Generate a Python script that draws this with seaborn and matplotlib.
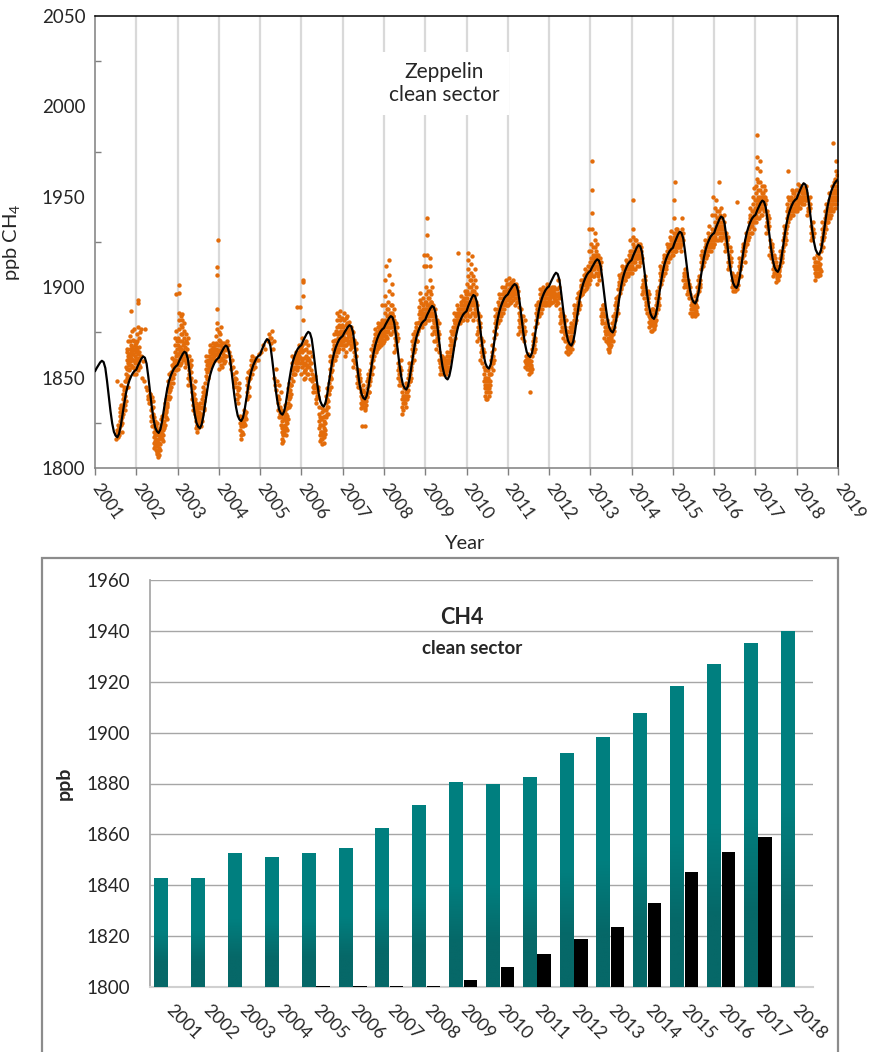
import numpy as np
import pandas as pd
import matplotlib
matplotlib.use("Agg")
import matplotlib.pyplot as plt
import seaborn as sns
from matplotlib.patches import Rectangle
from matplotlib.colors import LinearSegmentedColormap

sns.set_theme(style="white")
plt.rcParams["font.family"] = ["Lato", "DejaVu Sans"]
plt.rcParams["mathtext.default"] = "regular"

# ---------------- top panel data ----------------
# fitted curve, values on the 1st and 15th of each month (Jan..Dec)
fit_2001 = [1853.5, 1855.3, 1856.9, 1858.4, 1859.3, 1858.6, 1855.3, 1848.1, 1839.6, 1831.5, 1824.7, 1820.0,
            1817.9, 1817.0, 1818.9, 1823.4, 1829.7, 1835.7, 1841.3, 1845.4, 1848.4, 1850.7, 1852.5, 1853.7]
fit_2002 = [1854.4, 1856.7, 1858.6, 1860.5, 1861.7, 1861.0, 1857.7, 1850.5, 1842.0, 1833.9, 1827.1, 1822.4,
            1820.3, 1819.4, 1821.3, 1825.8, 1832.2, 1838.2, 1843.8, 1848.0, 1851.0, 1853.2, 1855.1, 1856.2]
fit_2003 = [1857.0, 1859.3, 1861.2, 1863.1, 1864.3, 1863.6, 1860.3, 1853.1, 1844.6, 1836.5, 1829.7, 1825.0,
            1822.9, 1822.0, 1824.0, 1828.6, 1835.3, 1841.5, 1847.4, 1851.6, 1854.8, 1857.1, 1859.1, 1860.2]
fit_2004 = [1861.0, 1863.1, 1864.9, 1866.6, 1867.7, 1867.0, 1863.8, 1856.7, 1848.3, 1840.3, 1833.6, 1828.9,
            1826.8, 1826.0, 1827.8, 1832.2, 1838.5, 1844.4, 1849.9, 1853.9, 1856.8, 1859.0, 1860.9, 1862.0]
fit_2005 = [1862.7, 1865.4, 1867.6, 1869.8, 1871.3, 1870.6, 1867.4, 1860.2, 1851.8, 1843.8, 1837.1, 1832.4,
            1830.3, 1829.5, 1831.4, 1836.0, 1842.6, 1848.8, 1854.5, 1858.8, 1861.8, 1864.2, 1866.1, 1867.2]
fit_2006 = [1868.0, 1870.3, 1872.2, 1874.1, 1875.3, 1874.6, 1871.4, 1864.4, 1856.0, 1848.1, 1841.5, 1836.9,
            1834.8, 1834.0, 1836.0, 1840.6, 1847.3, 1853.5, 1859.4, 1863.6, 1866.8, 1869.1, 1871.1, 1872.2]
fit_2007 = [1873.0, 1874.9, 1876.5, 1878.0, 1879.0, 1878.3, 1875.2, 1868.1, 1859.9, 1852.0, 1845.4, 1840.9,
            1838.8, 1838.0, 1840.0, 1844.7, 1851.4, 1857.8, 1863.7, 1868.0, 1871.2, 1873.6, 1875.5, 1876.7]
fit_2008 = [1877.5, 1879.5, 1881.2, 1882.9, 1884.0, 1883.3, 1880.2, 1873.3, 1865.1, 1857.3, 1850.8, 1846.3,
            1844.2, 1843.4, 1845.3, 1850.0, 1856.5, 1862.7, 1868.5, 1872.7, 1875.8, 1878.1, 1880.1, 1881.2]
fit_2009 = [1882.0, 1884.4, 1886.3, 1888.3, 1889.6, 1888.9, 1885.8, 1878.9, 1870.7, 1862.9, 1856.4, 1851.9,
            1849.8, 1849.0, 1850.9, 1855.4, 1861.8, 1867.9, 1873.5, 1877.7, 1880.7, 1882.9, 1884.8, 1885.9]
fit_2010 = [1886.7, 1889.5, 1891.8, 1894.1, 1895.7, 1895.0, 1891.9, 1884.9, 1876.7, 1868.9, 1862.4, 1857.9,
            1855.8, 1855.0, 1857.1, 1862.0, 1868.9, 1875.5, 1881.7, 1886.2, 1889.4, 1891.9, 1894.0, 1895.2]
fit_2011 = [1896.0, 1897.8, 1899.3, 1900.8, 1901.7, 1901.0, 1897.9, 1891.0, 1882.9, 1875.2, 1868.7, 1864.2,
            1862.2, 1861.4, 1863.4, 1868.0, 1874.7, 1881.0, 1886.8, 1891.1, 1894.2, 1896.6, 1898.5, 1899.7]
fit_2012 = [1900.5, 1902.8, 1904.8, 1906.7, 1908.0, 1907.3, 1904.2, 1897.3, 1889.2, 1881.5, 1875.0, 1870.5,
            1868.5, 1867.7, 1869.8, 1874.7, 1881.7, 1888.4, 1894.5, 1899.1, 1902.4, 1904.9, 1906.9, 1908.2]
fit_2013 = [1909.0, 1911.0, 1912.7, 1914.4, 1915.4, 1914.7, 1911.6, 1904.7, 1896.6, 1888.8, 1882.3, 1877.8,
            1875.8, 1875.0, 1877.0, 1881.8, 1888.6, 1895.0, 1901.0, 1905.4, 1908.6, 1911.0, 1913.0, 1914.2]
fit_2014 = [1915.0, 1917.6, 1919.7, 1921.9, 1923.3, 1922.6, 1919.5, 1912.5, 1904.3, 1896.5, 1889.9, 1885.3,
            1883.3, 1882.5, 1884.5, 1889.2, 1895.9, 1902.2, 1908.0, 1912.4, 1915.5, 1917.9, 1919.8, 1921.0]
fit_2015 = [1921.8, 1924.6, 1926.9, 1929.2, 1930.7, 1930.0, 1927.0, 1920.2, 1912.2, 1904.6, 1898.2, 1893.8,
            1891.8, 1891.0, 1893.0, 1897.6, 1904.3, 1910.5, 1916.4, 1920.6, 1923.8, 1926.1, 1928.1, 1929.2]
fit_2016 = [1930.0, 1932.8, 1935.2, 1937.5, 1939.1, 1938.4, 1935.4, 1928.7, 1920.7, 1913.1, 1906.8, 1902.4,
            1900.4, 1899.6, 1901.6, 1906.5, 1913.3, 1919.8, 1925.9, 1930.3, 1933.5, 1936.0, 1938.0, 1939.2]
fit_2017 = [1940.0, 1942.5, 1944.5, 1946.6, 1947.9, 1947.2, 1944.2, 1937.5, 1929.5, 1922.0, 1915.6, 1911.3,
            1909.3, 1908.5, 1910.5, 1915.4, 1922.3, 1928.8, 1934.8, 1939.3, 1942.5, 1945.0, 1947.0, 1948.2]
fit_2018 = [1949.0, 1951.6, 1953.8, 1956.0, 1957.5, 1956.8, 1953.8, 1947.1, 1939.1, 1931.5, 1925.2, 1920.8,
            1918.8, 1918.0, 1920.1, 1925.1, 1932.1, 1938.8, 1945.0, 1949.5, 1952.9, 1955.4, 1957.4, 1958.7]
fit_end_2019 = 1959.5

# observations, per month (Jan..Dec), values in ppb -- first reading pass
obs_2001 = ["", "", "", "", "", "",
            "1819 1816 1821 1848 1824",
            "1818 1822 1826 1829 1831 1833 1827 1835 1846 1824",
            "1830 1834 1838 1841 1836 1843 1845 1839 1832 1848",
            "1848 1852 1856 1860 1864 1855 1850 1866 1858 1862 1870 1845",
            "1855 1859 1862 1866 1870 1873 1861 1857 1864 1868 1887 1876",
            "1856 1860 1863 1866 1852 1870 1877 1865 1862 1858 1868"]
obs_2002 = ["1852 1856 1860 1865 1870 1874 1878 1893 1891 1863 1858",
            "1856 1862 1877 1850", "1848 1877 1845", "1843 1840 1838 1836",
            "1841 1836 1832 1829 1826 1833 1823 1839",
            "1828 1824 1820 1817 1814 1811 1822 1818 1815 1826 1812",
            "1815 1812 1809 1806 1808 1818 1821 1813 1810 1816 1819",
            "1813 1817 1820 1824 1827 1816 1822 1829 1819",
            "1822 1826 1829 1833 1836 1830 1824 1838 1832",
            "1836 1840 1844 1848 1852 1842 1838 1846",
            "1845 1849 1853 1857 1861 1851 1856 1847",
            "1852 1856 1860 1864 1868 1872 1876 1896 1862 1858"]
obs_2003 = ["1855 1859 1863 1868 1872 1877 1882 1886 1901 1897 1866 1861",
            "1858 1862 1866 1870 1874 1878 1882 1885 1864 1860 1868",
            "1856 1860 1864 1867 1870 1874 1862 1858",
            "1846 1850 1854 1858 1862 1852 1848 1856",
            "1850 1846 1842 1838 1835 1832 1844 1840",
            "1838 1834 1830 1826 1822 1828 1832 1836 1824 1820",
            "1822 1825 1828 1831 1834 1836 1826 1830 1824",
            "1830 1834 1838 1842 1845 1836 1840 1832",
            "1847 1851 1855 1859 1862 1853 1849 1857",
            "1856 1859 1862 1865 1868 1860 1864 1858",
            "1858 1861 1864 1867 1869 1862 1866",
            "1860 1863 1866 1869 1873 1877 1880 1888 1907 1911 1926 1864"]
obs_2004 = ["1855 1859 1862 1865 1868 1870 1874 1878 1860",
            "1856 1860 1863 1866 1869 1862 1858",
            "1862 1866 1870 1868", "1858 1862 1855",
            "1856 1852 1848 1845 1850",
            "1849 1845 1841 1838 1843 1836",
            "1829 1825 1821 1818 1816 1823 1827",
            "1823 1826 1829 1832 1825 1830",
            "1838 1842 1846 1850 1853 1844 1848",
            "1850 1854 1857 1860 1862 1856",
            "1858 1861 1856", "1860 1863"]
obs_2005 = ["1864 1868", "1866", "1870 1874", "1869 1872 1876 1866",
            "1850 1846 1855 1843",
            "1840 1836 1832 1828 1846 1838",
            "1832 1828 1824 1820 1816 1814 1826 1822 1818 1830",
            "1820 1824 1828 1832 1835 1826 1830 1818 1822",
            "1836 1840 1844 1847 1842 1838 1834",
            "1846 1850 1854 1858 1862 1852 1856",
            "1852 1856 1860 1864 1858 1862 1889",
            "1856 1860 1864 1868 1862 1889 1866"]
obs_2006 = ["1852 1856 1860 1864 1868 1872 1882 1895 1904 1903 1858 1849",
            "1850 1854 1858 1862 1866 1870 1856 1860",
            "1852 1856 1860 1864 1858 1849",
            "1852 1848 1845 1842 1850 1846",
            "1846 1842 1838 1836 1840 1844",
            "1834 1830 1826 1822 1818 1815 1828 1824 1820",
            "1816 1813 1820 1824 1828 1818 1822 1826 1832",
            "1828 1832 1836 1840 1844 1834 1838 1830",
            "1843 1847 1851 1855 1859 1862 1849 1853",
            "1858 1862 1866 1870 1874 1864 1868 1860",
            "1862 1866 1870 1874 1878 1882 1886 1868 1872",
            "1866 1870 1874 1878 1882 1887 1872 1876 1869"]
obs_2007 = ["1866 1870 1874 1878 1882 1886 1868 1872 1876 1862",
            "1868 1872 1876 1880 1884 1870 1874 1878",
            "1866 1870 1874 1878 1872 1868 1876",
            "1856 1860 1864 1868 1871 1862 1858",
            "1855 1851 1847 1845 1853 1849",
            "1848 1844 1840 1836 1833 1842 1838 1823",
            "1834 1838 1842 1836 1840 1823 1832",
            "1840 1844 1848 1852 1846 1850 1842",
            "1850 1854 1858 1862 1866 1856 1860",
            "1862 1866 1870 1874 1877 1868 1872",
            "1866 1870 1874 1878 1880 1872 1876 1868",
            "1868 1872 1876 1880 1878 1874 1870 1882 1890"]
obs_2008 = ["1870 1874 1878 1882 1886 1890 1895 1904 1912 1873 1880",
            "1872 1876 1880 1884 1888 1892 1898 1907 1915 1878 1882",
            "1874 1878 1882 1886 1890 1896 1902 1880 1884",
            "1864 1868 1872 1876 1880 1870 1874",
            "1858 1854 1850 1846 1856 1852",
            "1846 1842 1838 1834 1830 1840 1836",
            "1836 1840 1844 1838 1842 1834 1847",
            "1846 1850 1854 1858 1852 1848 1856",
            "1858 1862 1866 1870 1874 1864 1868",
            "1872 1876 1880 1874 1878 1870",
            "1877 1881 1885 1889 1893 1897 1883 1887",
            "1878 1882 1886 1890 1894 1884 1888 1880 1912 1918"]
obs_2009 = ["1880 1884 1888 1892 1896 1900 1912 1918 1929 1938 1886 1890",
            "1882 1886 1890 1894 1898 1904 1912 1916 1888 1892",
            "1874 1878 1882 1886 1890 1880 1884 1870",
            "1866 1870 1874 1878 1882 1872 1876",
            "1864 1860 1856 1852 1858 1862",
            "1852 1855 1858 1861 1856 1860",
            "1852 1856 1860 1864 1858 1862 1854",
            "1860 1864 1868 1872 1876 1866 1870",
            "1870 1874 1878 1882 1886 1876 1880",
            "1878 1882 1886 1890 1884 1888 1919",
            "1880 1884 1888 1892 1895 1886 1890",
            "1882 1886 1890 1894 1888 1892 1898 1884"]
obs_2010 = ["1882 1886 1890 1894 1898 1902 1906 1910 1915 1919 1888 1892",
            "1884 1888 1892 1896 1900 1904 1908 1913 1917 1894 1898",
            "1882 1886 1890 1894 1898 1904 1910 1888 1892",
            "1870 1874 1878 1882 1886 1876 1880",
            "1860 1864 1868 1872 1866 1862 1870",
            "1856 1852 1848 1844 1840 1846 1850 1854",
            "1838 1842 1846 1850 1854 1844 1848 1852",
            "1852 1856 1860 1864 1868 1858 1862",
            "1872 1876 1880 1884 1888 1878 1882",
            "1880 1884 1888 1892 1896 1886 1890",
            "1884 1888 1892 1896 1900 1890 1894",
            "1888 1892 1896 1900 1904 1894 1898 1890"]
obs_2011 = ["1890 1893 1896 1899 1902 1905 1894 1898",
            "1892 1895 1898 1901 1904 1896 1900",
            "1890 1894 1898 1902 1896 1900 1892",
            "1874 1878 1882 1886 1889 1880 1884",
            "1872 1876 1880 1884 1878 1874",
            "1856 1859 1862 1858 1860 1855",
            "1852 1855 1858 1860 1854 1856 1842",
            "1862 1866 1870 1874 1868 1872",
            "1878 1882 1886 1890 1884 1888",
            "1884 1888 1892 1896 1899 1890 1894",
            "1888 1892 1896 1900 1894 1898",
            "1890 1894 1898 1902 1896 1900"]
obs_2012 = ["1890 1893 1896 1899 1894 1897 1891",
            "1892 1895 1898 1900 1894 1897",
            "1890 1893 1896 1899 1892 1895 1904",
            "1880 1884 1888 1876 1882 1886",
            "1872 1876 1880 1884 1878 1874",
            "1864 1867 1870 1873 1876 1868 1872 1866",
            "1864 1867 1870 1873 1877 1880 1868 1875",
            "1878 1882 1886 1890 1884 1888",
            "1886 1890 1894 1897 1892 1888",
            "1895 1898 1901 1904 1900 1896",
            "1898 1901 1904 1907 1910 1902 1905",
            "1900 1903 1906 1909 1912 1904 1907 1920 1932"]
obs_2013 = ["1904 1908 1912 1916 1920 1924 1932 1941 1954 1970 1910 1914",
            "1906 1910 1914 1918 1922 1926 1930 1912 1916",
            "1902 1906 1910 1914 1918 1908 1912",
            "1884 1888 1880 1886 1882 1890",
            "1872 1876 1880 1884 1878 1874 1870",
            "1866 1869 1872 1875 1878 1868 1871 1874 1864",
            "1868 1872 1876 1880 1874 1878 1884",
            "1882 1886 1890 1894 1888 1892",
            "1895 1899 1903 1907 1901 1905",
            "1900 1904 1908 1912 1906 1910",
            "1904 1908 1912 1915 1910 1906",
            "1906 1910 1914 1918 1912 1916 1920 1926"]
obs_2014 = ["1908 1912 1916 1920 1924 1928 1932 1948 1914 1918",
            "1910 1914 1918 1922 1926 1916 1920",
            "1912 1916 1920 1924 1918 1914",
            "1896 1900 1904 1898 1902 1894",
            "1888 1892 1896 1890 1894 1886",
            "1878 1881 1884 1887 1880 1883 1876",
            "1876 1879 1882 1885 1888 1880 1884 1877",
            "1886 1890 1894 1898 1892 1896",
            "1900 1904 1908 1912 1906 1910",
            "1906 1910 1914 1918 1912 1916",
            "1912 1916 1920 1924 1918 1922",
            "1916 1920 1924 1928 1922 1926 1931"]
obs_2015 = ["1918 1922 1926 1930 1924 1928 1938 1948 1958 1920",
            "1920 1924 1928 1932 1926 1930 1922",
            "1922 1926 1930 1928 1924 1920 1938",
            "1904 1908 1900 1906 1902 1910",
            "1896 1900 1904 1898 1902 1894",
            "1886 1890 1894 1888 1892 1884",
            "1886 1889 1892 1895 1888 1891 1884",
            "1896 1900 1904 1898 1902 1906",
            "1910 1914 1918 1912 1916 1920",
            "1914 1918 1922 1926 1920 1924",
            "1918 1922 1926 1930 1924 1928 1934",
            "1920 1924 1928 1932 1926 1930 1940 1950"]
obs_2016 = ["1924 1928 1932 1936 1940 1944 1930 1934 1948",
            "1926 1930 1934 1938 1942 1932 1936 1958",
            "1926 1930 1934 1938 1932 1936 1928",
            "1920 1924 1928 1922 1926 1930",
            "1910 1914 1918 1912 1916 1922",
            "1900 1904 1908 1902 1906 1898",
            "1898 1902 1906 1900 1904 1947",
            "1908 1912 1916 1910 1914",
            "1916 1920 1924 1918 1922",
            "1922 1926 1930 1924 1928",
            "1928 1932 1936 1940 1944 1934 1938",
            "1930 1934 1938 1942 1946 1950 1936 1940 1955"]
obs_2017 = ["1936 1940 1944 1948 1952 1956 1960 1966 1972 1984 1942 1946",
            "1938 1942 1946 1950 1954 1958 1964 1970 1944 1948",
            "1940 1944 1948 1952 1946 1950 1956",
            "1930 1934 1938 1942 1936 1940",
            "1918 1922 1926 1920 1924",
            "1906 1910 1914 1918 1908 1912",
            "1903 1906 1909 1912 1905 1908 1911",
            "1912 1916 1920 1914 1918",
            "1922 1926 1930 1934 1928 1932",
            "1934 1938 1942 1946 1950 1940 1944 1964",
            "1938 1942 1946 1950 1944 1948 1954",
            "1940 1944 1948 1952 1946 1950"]
obs_2018 = ["1942 1945 1948 1951 1954 1957 1946 1950",
            "1944 1947 1950 1953 1956 1948 1952",
            "1946 1950 1954 1948 1952",
            "1940 1944 1948 1942 1946",
            "1926 1930 1934 1928 1932",
            "1916 1912 1908 1904 1914 1910",
            "1906 1910 1914 1918 1908 1912 1916",
            "1920 1924 1928 1932 1936 1926 1930",
            "1930 1934 1938 1942 1946 1936 1940",
            "1936 1940 1944 1948 1952 1942 1946",
            "1940 1944 1948 1952 1956 1946 1950 1980",
            "1944 1948 1952 1956 1960 1964 1950 1954 1970"]

# second reading pass (dense cores of the clouds)
obs2_2001 = ["", "", "", "", "", "", "1817 1820 1823", "1820 1825 1828 1832",
             "1835 1840 1844 1837", "1851 1854 1857 1861 1863",
             "1856 1860 1863 1867 1871 1865", "1855 1859 1861 1864 1867 1869"]
obs2_2002 = ["1854 1857 1861 1864 1867 1872 1875", "1859", "", "1841",
             "1828 1834 1837 1830", "1810 1813 1816 1819 1821 1823 1825 1808",
             "1807 1811 1814 1817 1820 1822 1810", "1815 1818 1821 1825 1823",
             "1828 1831 1834 1827 1835", "1839 1843 1847 1850", "1850 1854 1858 1860",
             "1854 1859 1863 1866 1870 1857"]
obs2_2003 = ["1857 1861 1864 1867 1870 1874 1879 1884", "1861 1865 1869 1872 1876 1880 1863",
             "1858 1862 1866 1869 1872", "1849 1853 1857 1860", "1837 1841 1845 1848",
             "1823 1827 1831 1835 1829 1833", "1823 1827 1829 1833 1826", "1833 1837 1841 1843",
             "1850 1854 1858 1860", "1857 1861 1863 1866", "1860 1863 1865 1868",
             "1862 1865 1868 1871 1875"]
obs2_2004 = ["1857 1861 1864 1867 1869", "1859 1862 1865 1868", "1864", "1860", "1847 1853",
             "1840 1844 1847", "1820 1824 1826 1819", "1824 1828 1831 1827",
             "1840 1845 1849 1852", "1852 1855 1859", "1860", ""]
obs2_2005 = ["", "", "1872", "1870", "1848", "1834 1830 1842",
             "1815 1819 1823 1827 1831 1821", "1821 1825 1829 1833 1827",
             "1835 1839 1843 1846 1841", "1848 1852 1855 1859 1861",
             "1854 1858 1861 1863", "1858 1861 1865 1867"]
obs2_2006 = ["1853 1857 1861 1865 1869 1854", "1852 1857 1861 1864 1868", "1854 1858 1862",
             "1844 1849 1851", "1839 1843 1845", "1816 1820 1824 1827 1831 1833",
             "1814 1817 1821 1825 1829 1819", "1830 1834 1837 1841 1843",
             "1845 1850 1854 1857 1860", "1860 1864 1867 1871 1876",
             "1864 1868 1871 1875 1879 1884", "1868 1871 1875 1879 1883 1873"]
obs2_2007 = ["1868 1871 1875 1879 1883 1864", "1869 1873 1877 1881 1875", "1867 1871 1875 1869",
             "1858 1862 1866 1869", "1848 1852 1854 1850", "1835 1839 1843 1846 1837",
             "1833 1837 1841 1835 1839", "1842 1846 1850 1854 1848", "1852 1856 1860 1864 1868",
             "1864 1868 1872 1875 1866", "1867 1871 1875 1879 1869 1873 1877",
             "1869 1873 1877 1881 1871 1875 1879"]
obs2_2008 = ["1872 1876 1880 1884 1888 1875 1878", "1874 1878 1882 1886 1890 1880",
             "1876 1880 1884 1888 1878 1882", "1866 1870 1874 1878 1872",
             "1848 1852 1856 1860 1854", "1832 1836 1840 1844 1838", "1838 1842 1846 1840 1843",
             "1848 1852 1856 1850 1854", "1860 1864 1868 1872 1866", "1870 1874 1877 1880 1876",
             "1879 1883 1887 1891 1885", "1880 1884 1888 1892 1886"]
obs2_2009 = ["1882 1886 1890 1894 1898 1884 1888", "1884 1888 1892 1896 1900 1886 1890",
             "1876 1880 1884 1888 1878", "1868 1872 1876 1880 1874", "1854 1858 1862 1856 1860",
             "1853 1857 1859 1854", "1854 1858 1862 1856 1860", "1862 1866 1870 1874 1868",
             "1872 1876 1880 1884 1878", "1880 1884 1888 1886 1882", "1882 1886 1890 1893 1888",
             "1884 1888 1892 1896 1890"]
obs2_2010 = ["1884 1888 1892 1896 1900 1904 1890", "1886 1890 1894 1898 1902 1906 1892",
             "1884 1888 1892 1896 1900 1886 1890", "1872 1876 1880 1884 1878",
             "1858 1862 1866 1870 1864", "1838 1842 1846 1850 1854 1844 1848",
             "1840 1844 1848 1852 1842 1846", "1854 1858 1862 1866 1860",
             "1874 1878 1882 1886 1880", "1882 1886 1890 1894 1888", "1886 1890 1894 1898 1892",
             "1890 1894 1898 1902 1896"]
obs2_2011 = ["1891 1894 1897 1900 1903 1896", "1893 1896 1899 1902 1898", "1892 1896 1900 1894 1898",
             "1876 1880 1884 1888 1882", "1870 1874 1878 1882 1876", "1857 1860 1863 1858 1861",
             "1853 1856 1859 1857 1855", "1864 1868 1872 1866 1870", "1880 1884 1888 1892 1886",
             "1886 1890 1894 1898 1892", "1890 1894 1898 1896 1892", "1892 1896 1900 1898 1894"]
obs2_2012 = ["1892 1895 1898 1900 1896", "1893 1896 1899 1895", "1891 1894 1897 1900",
             "1878 1882 1886 1884", "1870 1874 1878 1882 1876", "1863 1866 1869 1872 1875 1878",
             "1866 1869 1872 1876 1879 1870", "1880 1884 1888 1886 1882", "1888 1892 1895 1890",
             "1896 1899 1902 1898 1904", "1899 1902 1905 1908 1903", "1902 1905 1908 1911 1906 1914"]
obs2_2013 = ["1906 1910 1914 1918 1922 1912 1916", "1908 1912 1916 1920 1924 1914 1918",
             "1904 1908 1912 1916 1910 1914", "1886 1890 1884 1888", "1874 1878 1882 1876 1880",
             "1865 1868 1871 1874 1877 1867 1870 1873", "1870 1874 1878 1882 1876",
             "1884 1888 1892 1890 1886", "1897 1901 1905 1903 1899", "1902 1906 1910 1908 1904",
             "1906 1910 1914 1912 1908", "1908 1912 1916 1914 1910 1918"]
obs2_2014 = ["1910 1914 1918 1922 1926 1916 1920", "1912 1916 1920 1924 1918 1922",
             "1914 1918 1922 1920 1916", "1898 1902 1906 1900 1904", "1890 1894 1898 1892 1896",
             "1879 1882 1885 1888 1881 1884", "1878 1881 1884 1887 1879 1882",
             "1888 1892 1896 1890 1894", "1902 1906 1910 1904 1908", "1908 1912 1916 1910 1914",
             "1914 1918 1922 1916 1920", "1918 1922 1926 1920 1924"]
obs2_2015 = ["1920 1924 1928 1932 1922 1926 1930", "1922 1926 1930 1924 1928",
             "1924 1928 1932 1926 1930", "1906 1908 1902 1904", "1898 1902 1896 1900",
             "1888 1892 1886 1890", "1887 1890 1893 1889 1885", "1898 1902 1900 1904",
             "1912 1916 1914 1918", "1916 1920 1924 1918 1922", "1920 1924 1928 1922 1926",
             "1922 1926 1930 1924 1928"]
obs2_2016 = ["1926 1930 1934 1938 1942 1932", "1928 1932 1936 1940 1944 1934",
             "1928 1932 1936 1940 1930", "1922 1926 1924 1928", "1912 1916 1914 1920",
             "1902 1906 1904 1900", "1899 1903 1901 1905", "1910 1914 1912 1906",
             "1918 1922 1920 1914", "1924 1928 1926 1930", "1930 1934 1938 1942 1936",
             "1932 1936 1940 1944 1938 1948"]
obs2_2017 = ["1938 1942 1946 1950 1954 1958 1944 1948", "1940 1944 1948 1952 1956 1946 1950",
             "1942 1946 1950 1954 1948", "1932 1936 1940 1934 1938", "1916 1920 1924 1922",
             "1908 1912 1916 1910 1914", "1904 1907 1910 1906 1909", "1914 1918 1916 1920",
             "1924 1928 1932 1926 1930", "1936 1940 1944 1948 1938 1942",
             "1940 1944 1948 1952 1942 1946", "1942 1946 1950 1954 1944 1948"]
obs2_2018 = ["1944 1947 1950 1953 1956 1948", "1946 1949 1952 1955 1950", "1948 1952 1956 1950",
             "1942 1946 1944 1950", "1928 1932 1936 1930", "1906 1910 1914 1918 1908 1912",
             "1907 1910 1913 1916 1909", "1922 1926 1930 1934 1928", "1932 1936 1940 1944 1938",
             "1938 1942 1946 1950 1944", "1942 1946 1950 1954 1948 1958",
             "1946 1950 1954 1958 1962 1948 1952 1956"]

fit_by_year = [fit_2001, fit_2002, fit_2003, fit_2004, fit_2005, fit_2006,
               fit_2007, fit_2008, fit_2009, fit_2010, fit_2011, fit_2012,
               fit_2013, fit_2014, fit_2015, fit_2016, fit_2017, fit_2018]
obs_by_year = [obs_2001, obs_2002, obs_2003, obs_2004, obs_2005, obs_2006,
               obs_2007, obs_2008, obs_2009, obs_2010, obs_2011, obs_2012,
               obs_2013, obs_2014, obs_2015, obs_2016, obs_2017, obs_2018]
obs2_by_year = [obs2_2001, obs2_2002, obs2_2003, obs2_2004, obs2_2005, obs2_2006,
                obs2_2007, obs2_2008, obs2_2009, obs2_2010, obs2_2011, obs2_2012,
                obs2_2013, obs2_2014, obs2_2015, obs2_2016, obs2_2017, obs2_2018]

# ---------------- bottom panel data ----------------
bar_years = [str(y) for y in range(2001, 2019)]
clean_mean = [1843.0, 1843.0, 1852.5, 1851.2, 1852.5, 1854.5, 1862.4, 1871.7, 1880.7,
              1879.7, 1882.7, 1891.8, 1898.4, 1907.6, 1918.2, 1927.1, 1935.3, 1940.0]
black_vals = [np.nan, np.nan, np.nan, np.nan, 1800.4, 1800.4, 1800.4, 1800.4, 1802.8,
              1808.0, 1812.8, 1819.0, 1823.7, 1832.9, 1845.1, 1852.9, 1859.1, np.nan]

# ---------------- build frames ----------------
fit_t, fit_v = [], []
for i, vals in enumerate(fit_by_year):
    for k, v in enumerate(vals):
        fit_t.append(2001 + i + k / 24.0)
        fit_v.append(v)
fit_t.append(2019.0)
fit_v.append(fit_end_2019)
fit_df = pd.DataFrame({"t": fit_t, "v": fit_v})

obs_t, obs_v = [], []
for i in range(len(obs_by_year)):
    for m in range(12):
        vals = [float(x) for x in (obs_by_year[i][m] + " " + obs2_by_year[i][m]).split()]
        n = len(vals)
        for j, v in enumerate(vals):
            obs_t.append(2001 + i + (m + (j + 0.5) / n) / 12.0)
            obs_v.append(v)
obs_df = pd.DataFrame({"t": obs_t, "v": obs_v})

W, H = 869, 1052
fig = plt.figure(figsize=(W / 100, H / 100), dpi=100)

# ---------------- top axes ----------------
ax = fig.add_axes([95 / W, 1 - 468 / H, (838 - 95) / W, (468 - 16) / H])
for yr in range(2002, 2019):
    ax.axvline(yr, color="#d9d9d9", lw=1.6, zorder=0)
sns.scatterplot(data=obs_df, x="t", y="v", ax=ax, color="#e36c0a", s=10,
                linewidth=0, zorder=2, legend=False)
sns.lineplot(data=fit_df, x="t", y="v", ax=ax, color="black", lw=1.6,
             estimator=None, sort=False, zorder=3, legend=False)
ax.set_xlim(2001, 2019)
ax.set_ylim(1800, 2050)
ax.set_xticks(range(2001, 2020))
ax.set_xticklabels([str(y) for y in range(2001, 2020)], rotation=-55,
                   ha="left", va="center", rotation_mode="anchor", fontsize=12.5)
ax.set_yticks(range(1800, 2051, 50))
ax.set_yticks(range(1825, 2050, 50), minor=True)
ax.tick_params(axis="y", which="major", direction="inout", length=8, width=1,
               color="#7f7f7f", labelsize=13.5, pad=3)
ax.tick_params(axis="y", which="minor", direction="in", length=4, width=1,
               color="#7f7f7f", left=True)
ax.tick_params(axis="x", which="major", direction="out", length=5, width=1,
               color="#7f7f7f", pad=7, bottom=True)
for side in ["left", "bottom"]:
    ax.spines[side].set_color("#7f7f7f")
    ax.spines[side].set_linewidth(1.1)
for side in ["top", "right"]:
    ax.spines[side].set_color("black")
    ax.spines[side].set_linewidth(1.1)
ax.set_xlabel("Year", fontsize=14.5)
ax.set_ylabel("ppb CH$_4$", fontsize=14.5)
ax.xaxis.set_label_coords(0.497, -0.148)
ax.yaxis.set_label_coords(-0.098, 0.5)
ax.text(2009.45, 2012.8, "Zeppelin\nclean sector", ha="center", va="center",
        fontsize=15, linespacing=1.2, zorder=4,
        bbox=dict(facecolor="white", edgecolor="none", pad=7))

# ---------------- bottom panel ----------------
fig.patches.append(Rectangle((42 / W, -0.02), (838 - 42) / W, 1 - 558 / H + 0.02,
                             transform=fig.transFigure, fill=False,
                             edgecolor="#8c8c8c", lw=1.6, zorder=0))
ax2 = fig.add_axes([150 / W, 1 - 987 / H, (813 - 150) / W, (987 - 580) / H])
bar_df = pd.DataFrame({
    "year": bar_years * 2,
    "value": clean_mean + black_vals,
    "series": ["clean"] * len(bar_years) + ["other"] * len(bar_years),
})
sns.barplot(data=bar_df, x="year", y="value", hue="series",
            palette={"clean": "#008080", "other": "black"},
            width=0.8, gap=0.1, ax=ax2, legend=False, zorder=3,
            edgecolor="none", errorbar=None)

cmap = LinearSegmentedColormap.from_list(
    "teal", [(0.0, "#066868"), (0.22, "#066868"), (0.5, "#017f7f"), (1.0, "#008080")])
grad = np.linspace(0, 1, 256).reshape(-1, 1)
for patch in ax2.containers[0].patches:
    x0 = patch.get_x()
    w = patch.get_width()
    top = patch.get_height()
    if not np.isfinite(top):
        continue
    im = ax2.imshow(grad, cmap=cmap, origin="lower", aspect="auto",
                    extent=(x0, x0 + w, 1800, top), zorder=3.5)
    im.set_clip_path(patch)
ax2.set_ylim(1800, 1960)
ax2.set_xlim(-0.5, len(bar_years) - 0.5)

ax2.set_yticks(range(1800, 1961, 20))
ax2.yaxis.grid(True, color="#a6a6a6", lw=1.0, zorder=0)
ax2.set_axisbelow(True)
ax2.tick_params(axis="y", length=0, labelsize=13.5, pad=14)
ax2.tick_params(axis="x", length=0, labelsize=13, pad=15)
ax2.set_xticks(range(len(bar_years)))
ax2.set_xticklabels(bar_years, rotation=-45, ha="left", va="center",
                    rotation_mode="anchor")
for side in ["top", "right"]:
    ax2.spines[side].set_visible(False)
ax2.spines["left"].set_color("#a6a6a6")
ax2.spines["bottom"].set_color("#d0d0d0")
ax2.spines["bottom"].set_linewidth(1.5)
ax2.set_xlabel("")
ax2.set_ylabel("ppb", fontsize=14, fontweight="bold")
ax2.yaxis.set_label_coords(-0.116, 0.5)
ax2.text(462 / W, 1 - 617 / H, "CH4", transform=fig.transFigure, ha="center",
         va="center", fontsize=15.5, fontweight="bold")
ax2.text(472 / W, 1 - 649 / H, "clean sector", transform=fig.transFigure,
         ha="center", va="center", fontsize=13.5, fontweight="bold")

fig.savefig("out.png", dpi=100)
